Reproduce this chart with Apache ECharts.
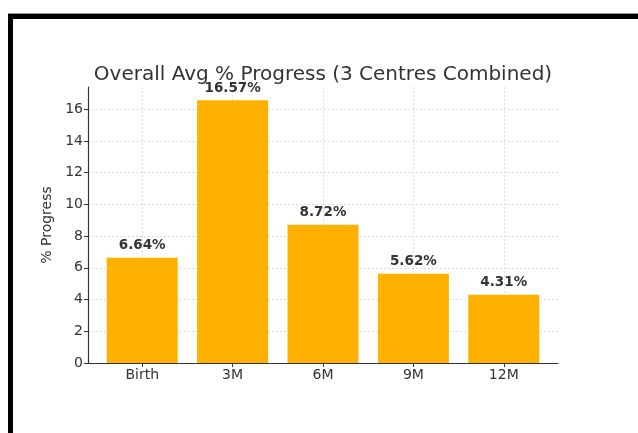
<!DOCTYPE html>
<html>
<head>
<meta charset="utf-8">
<script src="https://cdn.jsdelivr.net/npm/echarts@6/dist/echarts.min.js"></script>
<style>
  html, body { margin: 0; padding: 0; background: #fff; }
  #chart { width: 638px; height: 433px; }
  /* the black frame round the screenshot */
  #frame {
    position: absolute; left: 8px; top: 13px; right: 0; bottom: 0;
    border-top: 1px solid #999;
    box-shadow: inset 5px 5px 0 #000;
    pointer-events: none;
  }
</style>
</head>
<body>
<div id="chart"></div>
<div id="frame"></div>
<script>
  // data
  const categories = ['Birth', '3M', '6M', '9M', '12M'];
  const progress = [6.64, 16.57, 8.72, 5.62, 4.31];
  const yTicks = [0, 2, 4, 6, 8, 10, 12, 14, 16];
  const xTicks = [0, 1, 2, 3, 4];

  const font = '"DejaVu Sans", sans-serif';
  const chart = echarts.init(document.getElementById('chart'));

  chart.setOption({
    animation: false,
    backgroundColor: '#fff',
    title: {
      text: 'Overall Avg % Progress (3 Centres Combined)',
      left: 318,
      textAlign: 'center',
      top: 60,
      textStyle: { fontFamily: font, fontSize: 20, fontWeight: 'normal', color: '#333' }
    },
    grid: { left: 88, right: 80, top: 87, bottom: 70 },
    xAxis: {
      type: 'value',
      min: -0.6,
      max: 4.6,
      axisLine: { show: true, onZero: false, lineStyle: { color: '#333', width: 1.2 } },
      axisTick: { show: true, customValues: xTicks, length: 4, lineStyle: { color: '#333' } },
      axisLabel: {
        customValues: xTicks,
        formatter: v => categories[Math.round(v)],
        fontFamily: font, fontSize: 14, color: '#333', margin: 5
      },
      splitLine: { show: true, lineStyle: { color: '#ddd', type: [2, 2] } }
    },
    yAxis: {
      type: 'value',
      min: 0,
      max: 17.4,
      name: '% Progress',
      nameLocation: 'middle',
      nameGap: 33,
      nameTextStyle: { fontFamily: font, fontSize: 14, color: '#333' },
      axisLine: { show: true, onZero: false, lineStyle: { color: '#333', width: 1.2 } },
      axisTick: { show: true, customValues: yTicks, length: 4, lineStyle: { color: '#333' } },
      axisLabel: { customValues: yTicks, fontFamily: font, fontSize: 14, color: '#333', margin: 5 },
      splitLine: { show: true, lineStyle: { color: '#ddd', type: [2, 2] } }
    },
    series: [{
      type: 'bar',
      data: progress.map((v, i) => [i, v]),
      barWidth: 71,
      itemStyle: { color: '#ffb000' },
      label: {
        show: true,
        position: 'top',
        distance: 5,
        formatter: p => p.value[1].toFixed(2) + '%',
        fontFamily: font, fontSize: 13.5, fontWeight: 'bold', color: '#333'
      }
    }]
  });
</script>
</body>
</html>
